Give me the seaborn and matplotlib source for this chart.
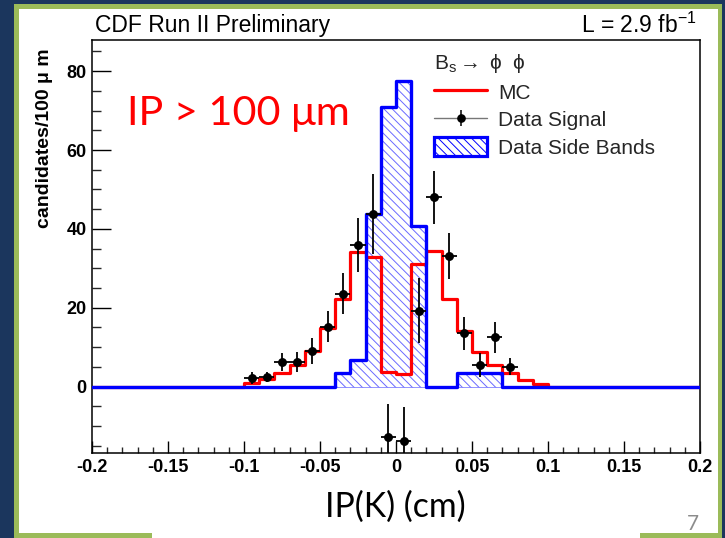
import numpy as np
import pandas as pd
import matplotlib
matplotlib.use("Agg")
import matplotlib.pyplot as plt
import seaborn as sns
from matplotlib.patches import Rectangle, Patch
from matplotlib.lines import Line2D
from matplotlib.legend_handler import HandlerTuple

# ---------------- data ----------------
bin_edges = [round(v, 3) for v in np.arange(-0.2, 0.2001, 0.01)]

mc_centers = [-0.095, -0.085, -0.075, -0.065, -0.055, -0.045, -0.035, -0.025, -0.015, -0.005,
              0.005, 0.015, 0.025, 0.035, 0.045, 0.055, 0.065, 0.075, 0.085, 0.095]
mc_values = [0.9, 1.9, 3.4, 5.5, 9.1, 14.8, 22.1, 34.1, 33.0, 3.8,
             3.2, 31.0, 34.5, 22.2, 14.2, 8.7, 5.5, 3.4, 1.7, 0.7]

sb_centers = [-0.035, -0.025, -0.015, -0.005, 0.005, 0.015, 0.045, 0.055, 0.065]
sb_values = [3.5, 6.8, 43.9, 70.8, 77.5, 40.7, 3.5, 3.5, 3.5]

sig_x = [-0.095, -0.085, -0.075, -0.065, -0.055, -0.045, -0.035, -0.025, -0.015, -0.005,
         0.005, 0.015, 0.025, 0.035, 0.045, 0.055, 0.065, 0.075]
sig_y = [2.1, 2.4, 6.2, 6.2, 9.1, 15.2, 23.5, 35.9, 43.8, -12.8,
         -13.9, 19.3, 48.0, 33.1, 13.5, 5.5, 12.5, 5.1]
sig_err = [1.5, 1.3, 2.3, 2.5, 3.3, 3.9, 5.2, 6.8, 10.1, 8.4,
           8.8, 8.2, 6.8, 5.8, 4.2, 3.0, 4.0, 2.2]
sig_xerr = 0.005

x_ticks = [-0.2, -0.15, -0.1, -0.05, 0.0, 0.05, 0.1, 0.15, 0.2]
x_tick_labels = ["-0.2", "-0.15", "-0.1", "-0.05", "0", "0.05", "0.1", "0.15", "0.2"]
y_ticks = [0, 20, 40, 60, 80]
y_tick_labels = ["0", "20", "40", "60", "80"]

# ---------------- style ----------------
sns.set_theme(style="ticks")
plt.rcParams['font.family'] = ['Liberation Sans', 'DejaVu Sans']
plt.rcParams['mathtext.fontset'] = 'custom'
plt.rcParams['mathtext.rm'] = 'Liberation Sans'
plt.rcParams['mathtext.it'] = 'Liberation Sans:italic'
plt.rcParams['mathtext.bf'] = 'Liberation Sans:bold'
plt.rcParams['hatch.linewidth'] = 0.7

W, H = 725, 538
NAVY = '#1b365d'
GREEN = '#9bbb59'
fig = plt.figure(figsize=(W / 100, H / 100), dpi=100, facecolor=NAVY)


def px_rect(x0, y0, x1, y1, color, z):
    fig.patches.append(Rectangle((x0 / W, 1 - y1 / H), (x1 - x0) / W, (y1 - y0) / H,
                                 transform=fig.transFigure, facecolor=color,
                                 edgecolor='none', zorder=z))


px_rect(14, 4, 722, 538, GREEN, -5)
px_rect(19, 9, 718, 533, 'white', -4)
px_rect(152, 533, 640, 538, 'white', -4)

ax = fig.add_axes([92 / W, 1 - 453.3 / H, (700 - 92) / W, (453.3 - 40) / H])
ax.set_facecolor('white')

df_mc = pd.DataFrame({'x': mc_centers, 'w': mc_values})
df_sb = pd.DataFrame({'x': sb_centers, 'w': sb_values})

HATCH = '\\\\\\\\'
# side band hatch fill
sns.histplot(data=df_sb, x='x', weights='w', bins=bin_edges, element='step', fill=True,
             color='#6a6aff', facecolor='none', edgecolor='#6a6aff', linewidth=0.5,
             hatch=HATCH, ax=ax, zorder=1)
# MC
sns.histplot(data=df_mc, x='x', weights='w', bins=bin_edges, element='step', fill=False,
             color='#ff0000', linewidth=2.3, ax=ax, zorder=2)
# side band outline
sns.histplot(data=df_sb, x='x', weights='w', bins=bin_edges, element='step', fill=False,
             color='#0000ff', linewidth=2.4, ax=ax, zorder=3)

ax.errorbar(sig_x, sig_y, yerr=sig_err, xerr=sig_xerr, fmt='o', color='black',
            ms=5.4, elinewidth=1.3, capsize=0, zorder=5)

ax.set_xlim(-0.2, 0.2)
ax.set_ylim(-16.9, 87.9)
ax.set_xlabel('')
ax.set_ylabel('')
ax.set_xticks(x_ticks)
ax.set_xticklabels(x_tick_labels)
ax.set_xticks(bin_edges, minor=True)
ax.set_yticks(y_ticks)
ax.set_yticklabels(y_tick_labels)
ax.set_yticks(np.arange(-15, 86, 5), minor=True)
for sp in ax.spines.values():
    sp.set_visible(True)
    sp.set_color('black')
    sp.set_linewidth(1.1)
ax.tick_params(axis='x', which='major', direction='in', length=8.6, width=1.0, pad=4,
               labelsize=13, colors='black')
ax.tick_params(axis='x', which='minor', direction='in', length=4.0, width=1.0)
ax.tick_params(axis='y', which='major', direction='in', length=13.5, width=1.0, pad=4,
               labelsize=13, colors='black')
ax.tick_params(axis='y', which='minor', direction='in', length=6.7, width=1.0)
for lab in ax.get_xticklabels() + ax.get_yticklabels():
    lab.set_fontweight('bold')

# legend
h_mc = Line2D([], [], color='#ff0000', lw=2.3)
h_sig = (Line2D([], [], color='#777777', lw=1.0),
         Line2D([], [], color='black', marker='|', ms=11, mew=1.1, lw=0),
         Line2D([], [], color='black', marker='o', ms=5.2, lw=0))
h_sb = Patch(facecolor='white', edgecolor='#0000ff', hatch=HATCH, lw=2.3)
leg = ax.legend([h_mc, h_sig, h_sb], ['MC', 'Data Signal', 'Data Side Bands'],
                handler_map={tuple: HandlerTuple(ndivide=1)},
                title='B$_{\\mathrm{s}}$$\\rightarrow$ ϕ  ϕ', title_fontsize=15, alignment='left',
                loc='upper left', bbox_to_anchor=(434 / W, 1 - 52 / H),
                bbox_transform=fig.transFigure, frameon=False, fontsize=15,
                handlelength=2.55, handleheight=1.0, handletextpad=0.53, labelspacing=0.34,
                borderpad=0, borderaxespad=0)

# texts
fig.text(95 / W, 1 - 32 / H, 'CDF Run II Preliminary', fontsize=16.5, va='baseline', ha='left',
         color='black')
fig.text(697 / W, 1 - 33 / H, 'L = 2.9 fb$^{\\mathrm{-1}}$', fontsize=16.5, va='baseline',
         ha='right', color='black')
fig.text(45 / W, 1 - 48 / H, 'candidates/100 μ m', rotation=90, ha='center', va='top',
         fontsize=14, fontweight='bold', color='black')
fig.text(127 / W, 1 - 125 / H, 'IP > 100 μm', color='#ff0000', fontsize=29.8,
         family=['Lato', 'DejaVu Sans'], va='baseline', ha='left')
fig.text(395 / W, 1 - 517 / H, 'IP(K) (cm)', color='black', fontsize=24.3,
         family=['Lato', 'DejaVu Sans'], va='baseline', ha='center')
fig.text(693 / W, 1 - 514 / H, '7', color='#8c8c8c', fontsize=15,
         family=['Lato', 'DejaVu Sans'], va='top', ha='center')

fig.savefig('out.png', dpi=100, facecolor=NAVY)
